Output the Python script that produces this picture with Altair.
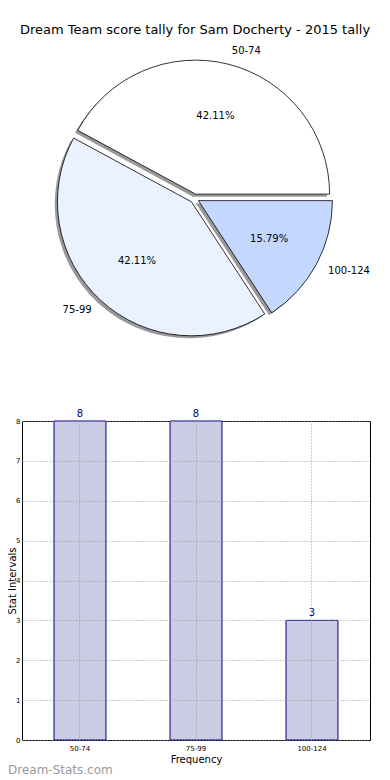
import math
import altair as alt
import pandas as pd

# ---------------- data ----------------
TITLE = "Dream Team score tally for Sam Docherty - 2015 tally"
categories = ["50-74", "75-99", "100-124"]
counts = [8, 8, 3]
slice_colors = ["#ffffff", "#eaf1ff", "#c4d8ff"]
x_title = "Frequency"
y_title = "Stat Intervals"
y_ticks = [0, 1, 2, 3, 4, 5, 6, 7, 8]
watermark = "Dream-Stats.com"

FONT = "DejaVu Sans"

# ---------------- layout (pixels) ----------------
PL, PT = 14, 413          # padding -> plot area at page (22, 421)
W, H = 348, 319
PR, PB = 12, 38
CX, CY = 172.5, -222.5    # pie centre relative to plot origin
R = 134
EXPLODE = 4.5
SHADOW = (-2.7, 2.5)

pie_df = pd.DataFrame({"range": categories, "count": counts, "idx": list(range(len(categories)))})
bar_df = pd.DataFrame({"range": categories, "count": counts})

total = sum(counts)
theta_scale = alt.Scale(domain=[0, total], range=[math.pi / 2, math.pi / 2 + 2 * math.pi])

# explode offsets from each slice's mid angle (clockwise from east, reversed order)
offsets = {}
acc = 0
for cat, c in reversed(list(zip(categories, counts))):
    a0 = 90 + 360 * acc / total
    acc += c
    a1 = 90 + 360 * acc / total
    mid = math.radians((a0 + a1) / 2)
    offsets[cat] = (EXPLODE * math.sin(mid), -EXPLODE * math.cos(mid), math.sin(mid) >= 0)

pie_base = (
    alt.Chart(pie_df)
    .transform_joinaggregate(total="sum(count)")
    .transform_window(cum="sum(count)", sort=[alt.SortField("idx", order="descending")], frame=[None, 0])
    .transform_calculate(
        start="datum.cum - datum.count",
        mid="datum.cum - datum.count / 2",
        pct="format(100 * datum.count / datum.total, '.2f') + '%'",
    )
)

shadow_layers, arc_layers, text_layers = [], [], []
for cat, col in zip(categories, slice_colors):
    dx, dy, right = offsets[cat]
    b = pie_base.transform_filter(alt.datum.range == cat)
    th = alt.Theta("start:Q", scale=theta_scale, stack=False)
    th2 = alt.Theta2("cum:Q")
    shadow_layers.append(
        b.mark_arc(outerRadius=R, innerRadius=0, fill="#555555", fillOpacity=0.6, strokeWidth=0).encode(
            theta=th, theta2=th2,
            x=alt.value(CX + dx + SHADOW[0]), y=alt.value(CY + dy + SHADOW[1]),
        )
    )
    arc_layers.append(
        b.mark_arc(outerRadius=R, innerRadius=0, stroke="black", strokeWidth=0.8).encode(
            theta=th, theta2=th2, fill=alt.value(col),
            x=alt.value(CX + dx), y=alt.value(CY + dy),
        )
    )
    text_layers.append(
        b.mark_text(radius=0.6 * R, fontSize=10, font=FONT, color="black", baseline="middle").encode(
            theta=alt.Theta("mid:Q", scale=theta_scale, stack=False), text="pct:N",
            x=alt.value(CX + dx), y=alt.value(CY + dy),
        )
    )
    text_layers.append(
        b.mark_text(radius=1.1 * R, fontSize=10, font=FONT, color="black", baseline="middle",
                    align="left" if right else "right").encode(
            theta=alt.Theta("mid:Q", scale=theta_scale, stack=False), text="range:N",
            x=alt.value(CX + dx), y=alt.value(CY + dy),
        )
    )

title = alt.Chart(pd.DataFrame({"t": [TITLE]})).mark_text(
    fontSize=13, font=FONT, color="black", align="center", baseline="middle"
).encode(text="t:N", x=alt.value(173), y=alt.value(-391))

wm = alt.Chart(pd.DataFrame({"t": [watermark]})).mark_text(
    fontSize=12, font=FONT, color="#9a9a9a", align="left", baseline="middle", fontWeight="normal"
).encode(text="t:N", x=alt.value(-14), y=alt.value(349))

GRID = dict(grid=True, gridDash=[1, 2], gridColor="#999999", gridWidth=1, zindex=1,
            ticks=False, domain=False, labelOverlap=False)

x_enc = alt.X("range:N", sort=categories,
              scale=alt.Scale(paddingInner=0.552, paddingOuter=0.276),
              axis=alt.Axis(title=x_title, labelAngle=0, labelFontSize=7, labelPadding=4,
                            titleFontSize=10, titlePadding=3, titleFontWeight="normal", **GRID))
y_enc = alt.Y("count:Q", scale=alt.Scale(domain=[0, 8], nice=False),
              axis=alt.Axis(title=y_title, values=y_ticks, tickCount=12, format="d",
                            labelFontSize=7, labelPadding=2,
                            titleFontSize=10, titleFontWeight="normal", titleX=-10,
                            titleBaseline="middle", **GRID))

bars = alt.Chart(bar_df).mark_bar(fill="#ccccE5", stroke="#000080", strokeWidth=1).encode(
    x=x_enc, y=y_enc,
)
bar_text = alt.Chart(bar_df).mark_text(
    fontSize=10, font=FONT, color="#000080", baseline="alphabetic", dy=-4
).encode(x=x_enc, y=y_enc, text="count:Q")

chart = alt.layer(
    *shadow_layers, *arc_layers, *text_layers, title, bars, bar_text, wm
).properties(
    width=W, height=H,
    autosize=alt.AutoSizeParams(type="none"),
    padding={"left": PL, "top": PT, "right": PR, "bottom": PB},
    background="white",
).configure_view(stroke="black", strokeWidth=1).configure_axis(
    labelFont=FONT, titleFont=FONT, labelColor="black", titleColor="black"
).configure_text(font=FONT)

chart.save("out.html", embed_options={"renderer": "svg", "actions": False})
